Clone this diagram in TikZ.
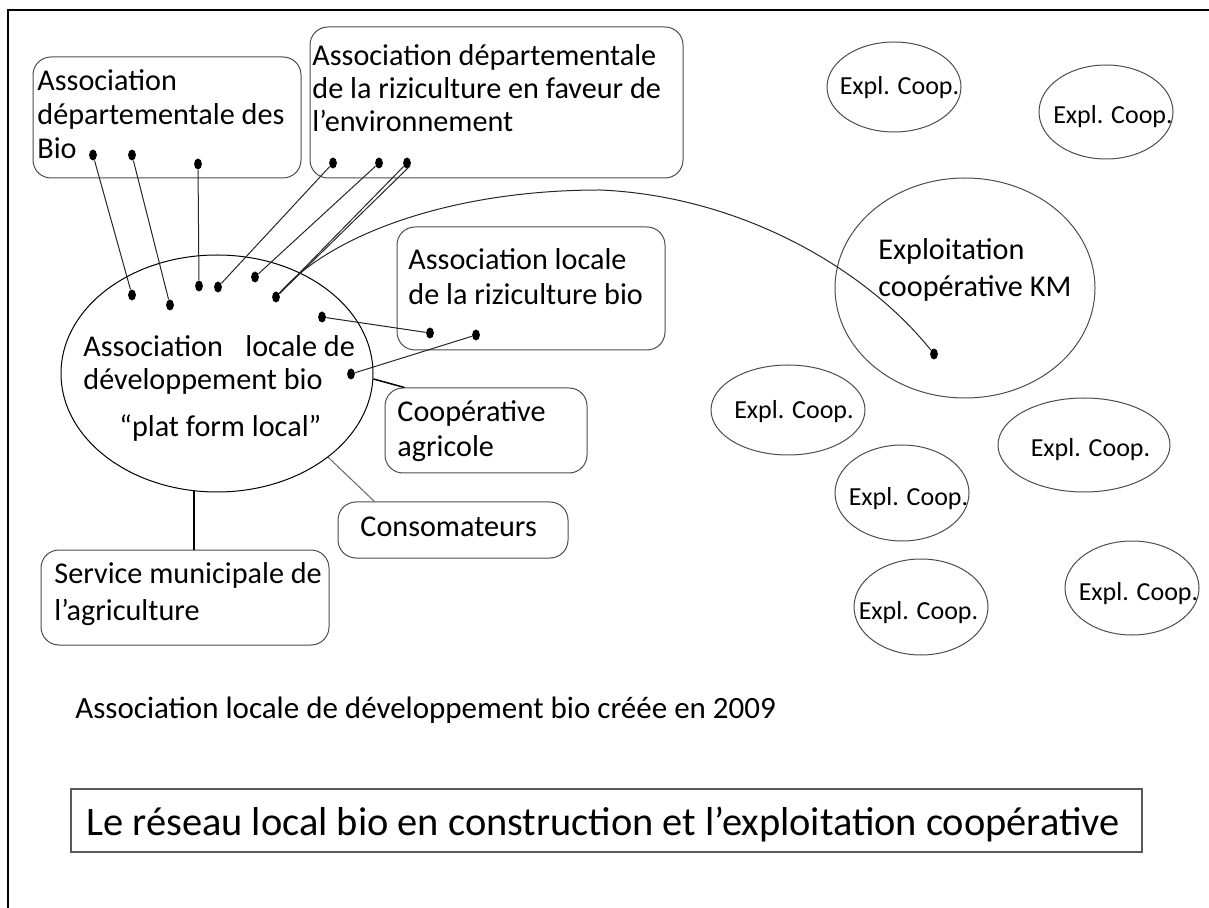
\documentclass[tikz,border=0pt]{standalone}
\usepackage{fontspec}
\setmainfont{Carlito}
\usetikzlibrary{shapes.geometric,calc}
\tikzset{
  box/.style={draw=black!70, line width=0.5pt, rounded corners=9pt, inner sep=0pt},
  oval/.style={draw=black!70, line width=0.5pt, ellipse, inner sep=0pt},
  txt/.style={inner sep=0pt, anchor=base west, font=\fontsize{15.1}{18}\selectfont},
  small/.style={inner sep=0pt, anchor=base, font=\fontsize{13}{15}\selectfont},
  dot/.style={ellipse, fill=black, inner sep=0pt, minimum width=3.9pt, minimum height=5.5pt},
  link/.style={line width=0.5pt, black!85},
}
\begin{document}
\begin{tikzpicture}[x=0.5pt, y=-0.5pt]
\useasboundingbox (0,0) rectangle (1209,908);

% page frame (top and left edges)
\draw[line width=1.35pt] (8,908) -- (8,10) -- (1209,10);

% ---- boxes ----
\node[box, minimum width=134pt, minimum height=60.5pt] (adb) at (167,117.5) {};
\node[txt] (adbt1) at (37,91) {Association};
\node[txt] (adbt2) at (37,125) {départementale des};
\node[txt] (adbt3) at (37,159) {Bio};

\node[box, minimum width=186.5pt, minimum height=75.5pt] (adr) at (496.5,102.5) {};
\node[txt] (adrt1) at (312,66) {Association départementale};
\node[txt] (adrt2) at (312,99) {de la riziculture en faveur de};
\node[txt] (adrt3) at (312,132) {l’environnement};

\node[box, minimum width=134pt, minimum height=61.5pt] (alr) at (531,288.5) {};
\node[txt] (alrt1) at (408,270) {Association locale};
\node[txt] (alrt2) at (408,305) {de la riziculture bio};

\node[box, minimum width=101pt, minimum height=42.5pt] (coop) at (486,430.5) {};
\node[txt] (coopt1) at (397,422) {Coopérative};
\node[txt] (coopt2) at (397,457) {agricole};

\node[box, minimum width=115pt, minimum height=28pt] (cons) at (453,530) {};
\node[txt] (const) at (360,537) {Consomateurs};

\node[box, minimum width=144pt, minimum height=47.5pt] (serv) at (185,597.5) {};
\node[txt] (servt1) at (54,583) {Service municipale de};
\node[txt] (servt2) at (54,620) {l’agriculture};

% ---- local platform ----
\node[oval, draw=black, minimum width=156pt, minimum height=118.5pt] (ald) at (217,373.5) {};
\node[txt] (aldt1) at (83,357) {Association};
\node[txt] (aldt2) at (245,357) {locale de};
\node[txt] (aldt3) at (83,390) {développement bio};
\node[txt] (aldt4) at (119,437) {“plat form local”};

% ---- cooperative farms ----
\node[oval, minimum width=130pt, minimum height=110pt] (km) at (965,288) {};
\node[txt] (kmt1) at (878,260) {Exploitation};
\node[txt] (kmt2) at (878,297) {coopérative KM};

\node[oval, minimum width=67pt, minimum height=45pt] (e1) at (894,87) {};
\node[small] (e1t) at (899.5,95) {Expl. Coop.};
\node[oval, minimum width=67pt, minimum height=47pt] (e2) at (1106,112) {};
\node[small] (e2t) at (1113,124) {Expl. Coop.};
\node[oval, minimum width=77pt, minimum height=45pt] (e3) at (788,410) {};
\node[small] (e3t) at (794,419) {Expl. Coop.};
\node[oval, minimum width=86pt, minimum height=47pt] (e4) at (1084,445) {};
\node[small] (e4t) at (1090.5,457) {Expl. Coop.};
\node[oval, minimum width=67pt, minimum height=48pt] (e5) at (902,493) {};
\node[small] (e5t) at (908.5,505) {Expl. Coop.};
\node[oval, minimum width=67pt, minimum height=48pt] (e6) at (921,607) {};
\node[small] (e6t) at (918.5,619) {Expl. Coop.};
\node[oval, minimum width=67pt, minimum height=47pt] (e7) at (1132,588) {};
\node[small] (e7t) at (1138.5,600) {Expl. Coop.};

% ---- link points ----
\node[dot] (d1) at (93,155) {};
\node[dot] (d2) at (132,155) {};
\node[dot] (d3) at (198,164) {};
\node[dot] (d4) at (333,163) {};
\node[dot] (d5) at (379,163) {};
\node[dot] (d6) at (407,163) {};
\node[dot] (m1) at (132,295) {};
\node[dot] (m2) at (170,305) {};
\node[dot] (m3) at (199,286) {};
\node[dot] (m4) at (218,287) {};
\node[dot] (m5) at (255,277) {};
\node[dot] (m6) at (276,297) {};
\node[dot] (m7) at (322,317) {};
\node[dot] (m8) at (351,374) {};
\node[dot] (r1) at (430,333) {};
\node[dot] (r2) at (476,335) {};
\node[dot] (k1) at (934,354) {};

% ---- links ----
\draw[link] (d1) -- (m1);
\draw[link] (d2) -- (m2);
\draw[link] (d3) -- (m3);
\draw[link] (d4) -- (m4);
\draw[link] (d5) -- (m5);
\draw[link] (d6) -- (m6);
\draw[link] ([xshift=1.5pt,yshift=-1.5pt]d6.center) -- (m6);
\draw[link] (m7) -- (r1);
\draw[link] (m8) -- (r2);
\draw[link] (m6) .. controls (330,235) and (450,190) .. (600,190)
                 .. controls (740,196) and (865,268) .. (k1);

\draw[line width=0.75pt] (ald.-2) -- ([xshift=10pt]coop.north west);
\draw[line width=0.5pt, black!60] (ald.-37) -- ([xshift=18.5pt]cons.north west);
\draw[line width=1pt] (ald.-101) -- (ald.-101 |- serv.north);

% ---- captions ----
\node[inner sep=0pt, anchor=base west, font=\fontsize{15.5}{18}\selectfont] (cap) at (75,718)
  {Association locale de développement bio créée en 2009};
\node[draw=black!65, line width=0.8pt, minimum width=535.5pt, minimum height=31.5pt, inner sep=0pt] (title) at (606.5,820.5) {};
\node[inner sep=0pt, anchor=base west, font=\fontsize{20.2}{24}\selectfont] (titlet) at (86,835)
  {Le réseau local bio en construction et l’exploitation coopérative};
\end{tikzpicture}
\end{document}
